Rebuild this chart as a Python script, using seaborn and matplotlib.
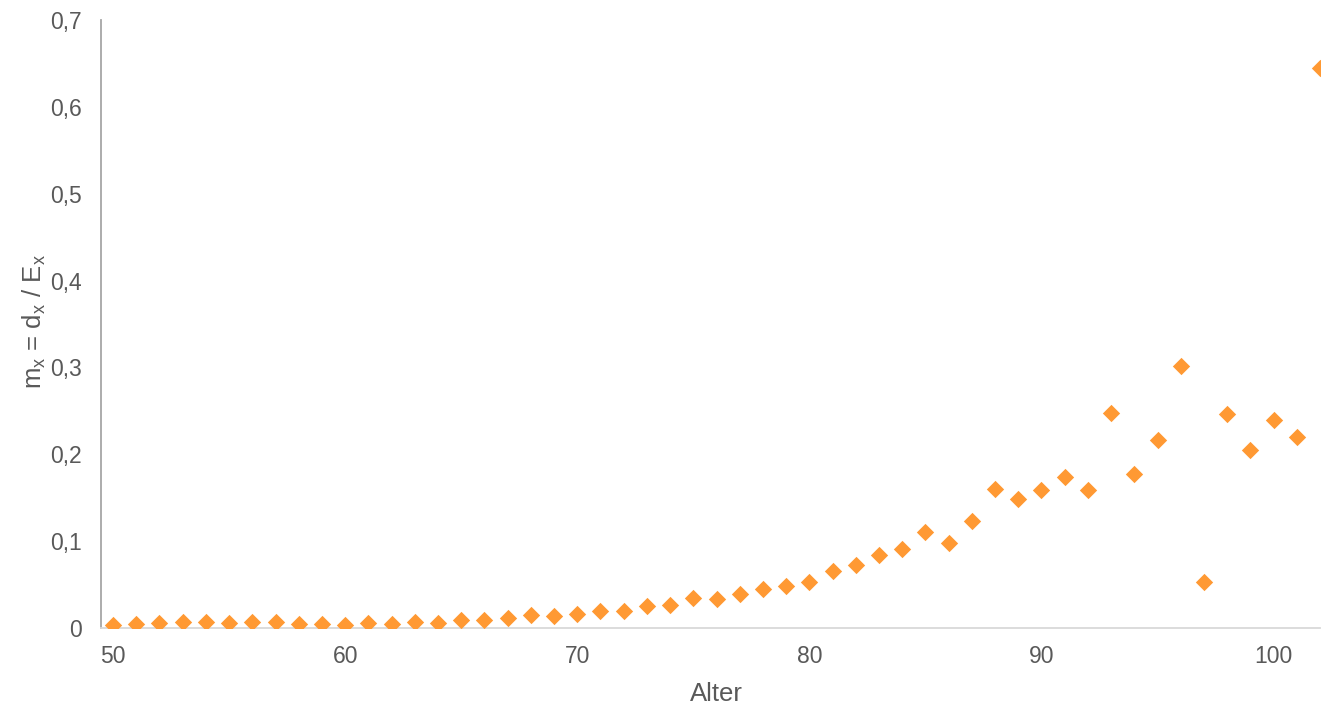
import matplotlib
matplotlib.use("Agg")
import matplotlib.pyplot as plt
import seaborn as sns
import pandas as pd

# Age and observed central death rate m_x = d_x / E_x
alter = list(range(50, 103))
mx = [0.003, 0.005, 0.006, 0.007, 0.007, 0.006, 0.007, 0.007, 0.005, 0.005,
      0.004, 0.006, 0.005, 0.007, 0.006, 0.009, 0.009, 0.011, 0.015, 0.014,
      0.016, 0.020, 0.020, 0.025, 0.027, 0.035, 0.033, 0.039, 0.045, 0.048,
      0.053, 0.066, 0.072, 0.084, 0.091, 0.110, 0.098, 0.123, 0.160, 0.148,
      0.159, 0.174, 0.159, 0.248, 0.177, 0.217, 0.302, 0.053, 0.246, 0.205,
      0.239, 0.220, 0.645]

x_ticks = [50, 60, 70, 80, 90, 100]
y_ticks = [0, 0.1, 0.2, 0.3, 0.4, 0.5, 0.6, 0.7]
y_tick_labels = ["0", "0,1", "0,2", "0,3", "0,4", "0,5", "0,6", "0,7"]

df = pd.DataFrame({"Alter": alter, "mx": mx})

sns.set_theme(style="white")
plt.rcParams["font.family"] = ["Liberation Sans", "DejaVu Sans"]
plt.rcParams["mathtext.fontset"] = "custom"
plt.rcParams["mathtext.rm"] = "Liberation Sans"

fig = plt.figure(figsize=(13.21, 7.06), dpi=100)
ax = fig.add_axes([101 / 1321, (706 - 628) / 706, (1320 - 101) / 1321, (628 - 20) / 706])

sns.scatterplot(data=df, x="Alter", y="mx", ax=ax, marker="D", s=78,
                color="#FF9933", linewidth=0, clip_on=True, zorder=3)

ax.set_xlim(49.48, 102)
ax.set_ylim(0, 0.7)
ax.set_xticks(x_ticks)
ax.set_yticks(y_ticks)
ax.set_yticklabels(y_tick_labels)

text_col = "#595959"
ax.tick_params(axis="both", length=0, labelsize=16.5, colors=text_col)
ax.tick_params(axis="x", pad=12)
ax.tick_params(axis="y", pad=14)

ax.set_xlabel("Alter", fontsize=18.5, color=text_col)
ax.set_ylabel(r"m$_\mathregular{x}$ = d$_\mathregular{x}$ / E$_\mathregular{x}$",
              fontsize=18.5, color=text_col)
ax.xaxis.label.set_va("center")
ax.xaxis.set_label_coords(0.505, (628 - 694) / 608)
ax.yaxis.label.set_va("center")
ax.yaxis.set_label_coords((34 - 101) / 1219, (628 - 322) / 608)

for side in ("top", "right"):
    ax.spines[side].set_visible(False)
ax.spines["left"].set_color("#a6a6a6")
ax.spines["left"].set_linewidth(1.3)
ax.spines["bottom"].set_color("#d9d9d9")
ax.spines["bottom"].set_linewidth(1.3)

fig.savefig("out.png", dpi=100)
